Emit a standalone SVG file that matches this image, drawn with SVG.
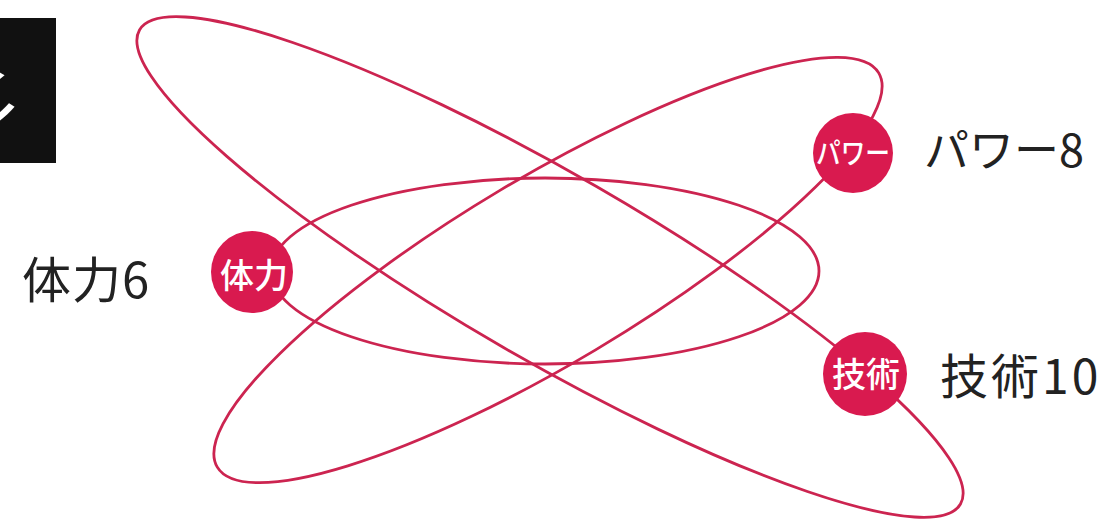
<svg xmlns="http://www.w3.org/2000/svg" width="1108" height="520" viewBox="0 0 1108 520">
  <defs>
    <style>
      .orbit { fill: none; stroke: #cc2450; stroke-width: 2.8; }
      .node { fill: #d91a4f; }
      .nlabel { fill: #ffffff; font-family: "Noto Sans CJK JP", sans-serif; font-weight: 500; text-anchor: middle; dominant-baseline: central; }
      .label { fill: #222222; font-family: "Noto Sans CJK JP", sans-serif; }
    </style>
    <clipPath id="boxclip"><rect x="0" y="18" width="56" height="145"/></clipPath>
  </defs>
  <rect width="1108" height="520" fill="#ffffff"/>

  <g id="title-box">
    <rect x="0" y="18" width="56" height="145" fill="#111111"/>
    <text x="-92" y="142" clip-path="url(#boxclip)" fill="#ffffff" font-family="Noto Sans CJK JP, sans-serif" font-weight="300" font-size="125">彡</text>
  </g>

  <g id="connectors">
    <ellipse class="orbit" cx="545" cy="271" rx="274" ry="93"/>
    <ellipse class="orbit" cx="550" cy="267" rx="474" ry="93" transform="rotate(30 550 267)"/>
    <ellipse class="orbit" cx="548" cy="270" rx="385" ry="93" transform="rotate(-30.8 548 270)"/>
  </g>

  <g id="node-power">
    <circle class="node" cx="853" cy="153" r="40"/>
    <text class="nlabel" x="853" y="151" font-size="29" textLength="74" lengthAdjust="spacingAndGlyphs">パワー</text>
  </g>
  <g id="node-stamina">
    <circle class="node" cx="252" cy="272" r="41"/>
    <text class="nlabel" x="254" y="273" font-size="34">体力</text>
  </g>
  <g id="node-skill">
    <circle class="node" cx="865" cy="374" r="42"/>
    <text class="nlabel" x="866" y="372" font-size="34">技術</text>
  </g>

  <g id="labels">
    <text class="label" x="924" y="167" font-size="45">パワー8</text>
    <text class="label" x="22" y="298" font-size="49" letter-spacing="1">体力6</text>
    <text class="label" x="940" y="394" font-size="48" letter-spacing="3">技術10</text>
  </g>
</svg>
